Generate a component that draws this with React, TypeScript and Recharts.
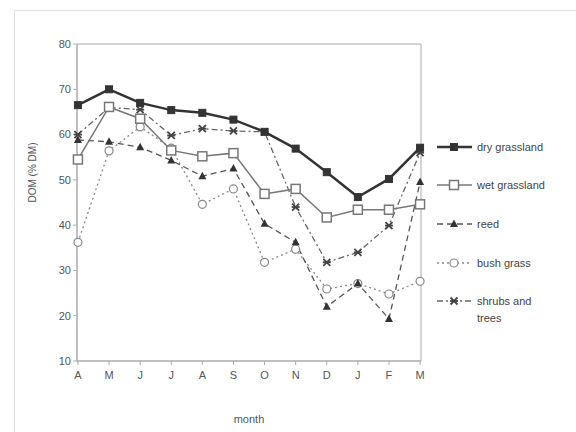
import { LineChart, Line, XAxis, YAxis, ReferenceArea } from 'recharts';

const months = ['A', 'M', 'J', 'J', 'A', 'S', 'O', 'N', 'D', 'J', 'F', 'M'];
const dryGrassland = [66.5, 70, 67, 65.4, 64.8, 63.3, 60.6, 56.9, 51.7, 46.2, 50.2, 57.1];
const wetGrassland = [54.5, 66.1, 63.5, 56.5, 55.2, 55.9, 46.9, 48, 41.7, 43.4, 43.4, 44.6];
const reed = [58.8, 58.4, 57.2, 54.3, 50.8, 52.5, 40.3, 36.2, 22, 27.1, 19.3, 49.5];
const bushGrass = [36.2, 56.4, 61.7, 57, 44.6, 48, 31.8, 34.7, 25.9, 27.1, 24.8, 27.6];
const shrubsTrees = [60, 66, 65.5, 59.8, 61.3, 60.8, 60.6, 44, 31.8, 34, 39.9, 56];
const yTicks = [10, 20, 30, 40, 50, 60, 70, 80];

const data = months.map((m, i) => ({
    idx: i,
    month: m,
    dry: dryGrassland[i],
    wet: wetGrassland[i],
    reed: reed[i],
    bush: bushGrass[i],
    shrubs: shrubsTrees[i],
}));

const FONT = '"Liberation Sans", Arial, sans-serif';
const X_DOMAIN = [-0.03, 11.03];

// marker shapes
const FilledSquare = (props: any) => {
    const { cx, cy } = props;
    if (cx == null) return null;
    return <rect x={cx - 3.5} y={cy - 3.5} width={7} height={7} fill="#333" stroke="#333" />;
};
const OpenSquare = (props: any) => {
    const { cx, cy } = props;
    if (cx == null) return null;
    return <rect x={cx - 4.5} y={cy - 4.5} width={9} height={9} fill="#fff" stroke="#777" strokeWidth={1.5} />;
};
const Triangle = (props: any) => {
    const { cx, cy } = props;
    if (cx == null) return null;
    return <polygon points={`${cx},${cy - 4.5} ${cx - 4},${cy + 3} ${cx + 4},${cy + 3}`} fill="#333" />;
};
const OpenCircle = (props: any) => {
    const { cx, cy } = props;
    if (cx == null) return null;
    return <circle cx={cx} cy={cy} r={4} fill="#fff" stroke="#888" strokeWidth={1.2} />;
};
const Star = (props: any) => {
    const { cx, cy } = props;
    if (cx == null) return null;
    return (
        <g stroke="#444" strokeWidth={1.8}>
            <line x1={cx - 3.5} y1={cy - 3.5} x2={cx + 3.5} y2={cy + 3.5} />
            <line x1={cx - 3.5} y1={cy + 3.5} x2={cx + 3.5} y2={cy - 3.5} />
            <line x1={cx - 4} y1={cy} x2={cx + 4} y2={cy} />
        </g>
    );
};

const legendItems = [
    { label: ['dry grassland'], stroke: '#333', width: 2.5, dash: undefined, Marker: FilledSquare, y: 27 },
    { label: ['wet grassland'], stroke: '#777', width: 1.5, dash: undefined, Marker: OpenSquare, y: 65 },
    { label: ['reed'], stroke: '#555', width: 1.3, dash: '6 4', Marker: Triangle, y: 104 },
    { label: ['bush grass'], stroke: '#888', width: 1.3, dash: '2 3', Marker: OpenCircle, y: 143 },
    { label: ['shrubs and', 'trees'], stroke: '#666', width: 1.3, dash: '6 3 2 3', Marker: Star, y: 181 },
];

function CustomLegend() {
    return (
        <svg width={140} height={210} style={{ position: 'absolute', left: 432, top: 120 }}>
            {legendItems.map((it, i) => (
                <g key={i}>
                    <line x1={5} y1={it.y} x2={40} y2={it.y} stroke={it.stroke} strokeWidth={it.width} strokeDasharray={it.dash} />
                    <it.Marker cx={22} cy={it.y} />
                    {it.label.map((t, j) => (
                        <text key={j} x={45} y={it.y + 4 + j * 17} fontSize={11} fill="#444" fontFamily={FONT}>{t}</text>
                    ))}
                </g>
            ))}
        </svg>
    );
}

export default function App() {
    return (
        <div style={{ position: 'absolute', left: 0, top: 0, width: 576, height: 432, background: '#fff' }}>
            <div style={{ position: 'absolute', left: 14, top: 10, width: 570, height: 430, border: '1px solid #e2e2e2' }} />
            <LineChart
                width={576}
                height={432}
                data={data}
                margin={{ top: 44, right: 155, bottom: 11, left: 0 }}
                style={{ position: 'absolute', left: 0, top: 0, fontFamily: FONT }}
            >
                <XAxis
                    dataKey="idx"
                    type="number"
                    domain={X_DOMAIN}
                    ticks={months.map((_, i) => i)}
                    tickFormatter={(v: number) => months[v]}
                    height={60}
                    stroke="#aaa"
                    tickSize={4}
                    tick={{ fill: '#555', fontSize: 11 }}
                    tickMargin={6}
                    label={{ value: 'month', position: 'insideBottom', offset: -2, fill: '#555', fontSize: 11 }}
                />
                <YAxis
                    domain={[10, 80]}
                    ticks={yTicks}
                    width={77}
                    stroke="#aaa"
                    tickSize={4}
                    tick={{ fill: '#555', fontSize: 11 }}
                    interval={0}
                    label={{ value: 'DOM (% DM)', angle: -90, position: 'insideLeft', offset: 32, fill: '#555', fontSize: 10 }}
                />
                <ReferenceArea x1={X_DOMAIN[0]} x2={X_DOMAIN[1]} y1={10} y2={80} fill="none" stroke="#aaa" strokeWidth={1} />
                <Line dataKey="bush" stroke="#888" strokeWidth={1.3} strokeDasharray="2 3" dot={<OpenCircle />} isAnimationActive={false} />
                <Line dataKey="shrubs" stroke="#666" strokeWidth={1.3} strokeDasharray="6 3 2 3" dot={<Star />} isAnimationActive={false} />
                <Line dataKey="reed" stroke="#555" strokeWidth={1.3} strokeDasharray="6 4" dot={<Triangle />} isAnimationActive={false} />
                <Line dataKey="wet" stroke="#777" strokeWidth={1.5} dot={<OpenSquare />} isAnimationActive={false} />
                <Line dataKey="dry" stroke="#333" strokeWidth={2.5} dot={<FilledSquare />} isAnimationActive={false} />
            </LineChart>
            <CustomLegend />
        </div>
    );
}
